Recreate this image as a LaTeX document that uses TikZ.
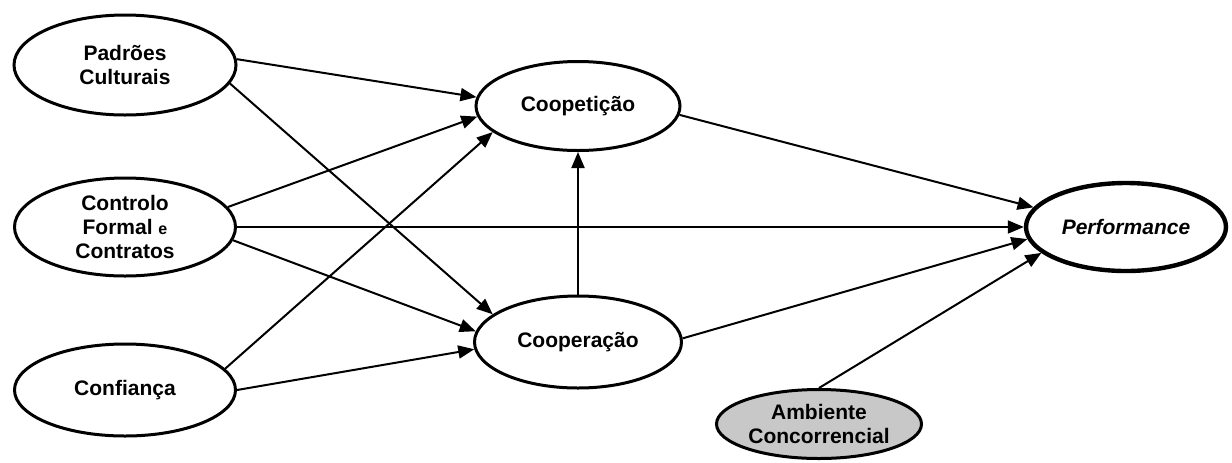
\documentclass[tikz,border=0pt]{standalone}
\usepackage{fontspec}
\setmainfont{Liberation Sans}
\usetikzlibrary{shapes.geometric,arrows.meta}
\definecolor{envgrey}{HTML}{C8C8C8}
\begin{document}
\begin{tikzpicture}[x=0.5pt,y=-0.5pt,
  lat/.style={ellipse,draw,line width=1.5pt,inner sep=0pt,align=center,
    font=\fontsize{10.5}{12}\selectfont\bfseries},
  arr/.style={line width=1pt,-{Triangle[length=8pt,width=6.5pt]}}]
\useasboundingbox (0,0) rectangle (1232,462);
\node[lat,minimum width=111pt,minimum height=50pt] (pc) at (125,65) {Padrões\\Culturais};
\node[lat,minimum width=110.5pt,minimum height=49pt] (ct) at (125,227) {Controlo\\Formal {\fontsize{8}{12}\selectfont e}\\Contratos};
\node[lat,minimum width=110.5pt,minimum height=46pt] (cf) at (125,390) {Confiança};
\node[lat,minimum width=102pt,minimum height=44.5pt] (cp) at (578,106) {Coopetição};
\node[lat,minimum width=103.5pt,minimum height=46pt] (co) at (578,342) {Cooperação};
\node[lat,line width=2.2pt,minimum width=100pt,minimum height=44pt,
  font=\fontsize{10.5}{12}\selectfont\bfseries\itshape] (pf) at (1126,227) {Performance};
\node[lat,fill=envgrey,minimum width=102.5pt,minimum height=34.5pt] (am) at (819,424) {Ambiente\\Concorrencial};
\draw[arr] (pc.3) -- (cp.175);
\draw[arr] (pc.-10) -- (co.162);
\draw[arr] (ct.11.5) -- (cp.186);
\draw[arr] (ct.east) -- (pf.west);
\draw[arr] (ct.-7.4) -- (co.174);
\draw[arr] (cf.12.7) -- (cp.197);
\draw[arr] (cf.east) -- (co.184);
\draw[arr] (co.north) -- (cp.south);
\draw[arr] (cp.-5) -- (pf.168);
\draw[arr] (co.2) -- (pf.187);
\draw[arr] (am.north) -- (pf.197);
\end{tikzpicture}
\end{document}
